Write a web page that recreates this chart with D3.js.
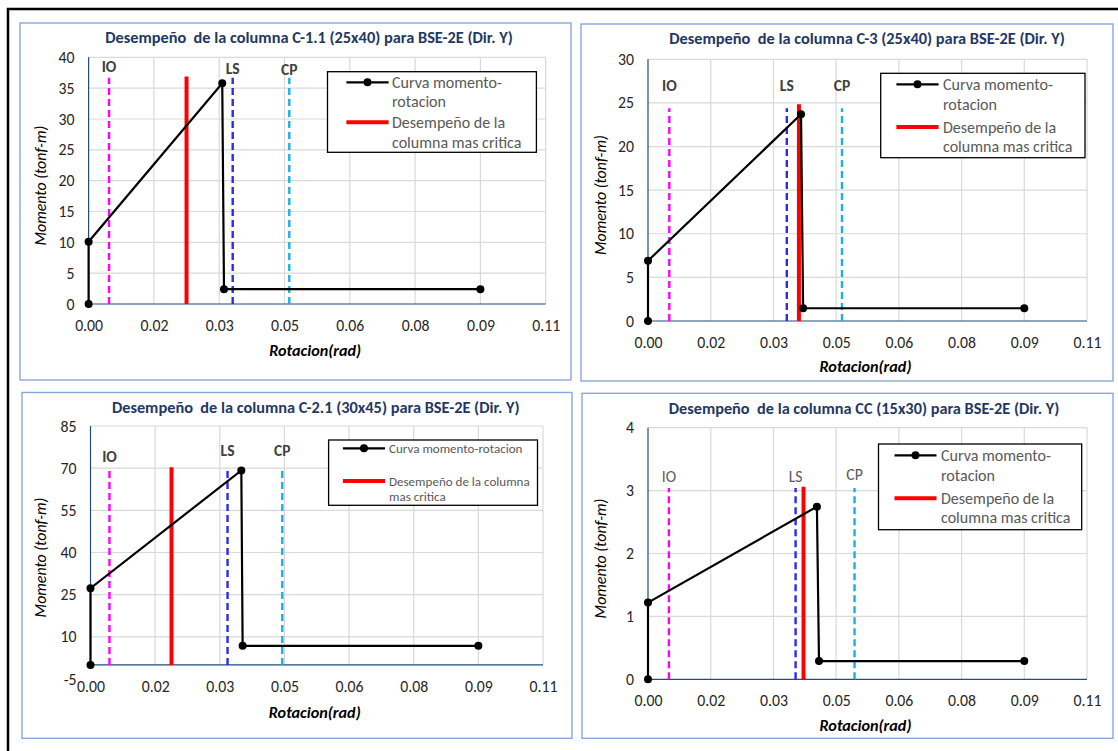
<!DOCTYPE html>
<html><head><meta charset="utf-8">
<script src="https://cdn.jsdelivr.net/npm/d3@7"></script>
<style>
body{margin:0;background:#fff}
svg{display:block}
text{font-family:Carlito, Lato, "Open Sans", sans-serif}
</style>
</head><body>
<svg id="c" width="1118" height="751"></svg>
<script>
// ---------- data ----------
const xTickValues = [0, 0.015, 0.03, 0.045, 0.06, 0.075, 0.09, 0.105];
const xTickLabels = ["0.00", "0.02", "0.03", "0.05", "0.06", "0.08", "0.09", "0.11"];
const xTitle = "Rotacion(rad)";
const yTitle = "Momento (tonf-m)";
const limitNames = ["IO", "LS", "CP"];

const titles = [
  "Desempeño  de la columna C-1.1 (25x40) para BSE-2E (Dir. Y)",
  "Desempeño  de la columna C-3 (25x40) para BSE-2E (Dir. Y)",
  "Desempeño  de la columna C-2.1 (30x45) para BSE-2E (Dir. Y)",
  "Desempeño  de la columna CC (15x30) para BSE-2E (Dir. Y)"
];

// C-1.1
const yTicksC11 = [0, 5, 10, 15, 20, 25, 30, 35, 40];
const rotC11 = [0, 0, 0.0307, 0.0311, 0.090];
const momC11 = [0, 10.1, 35.8, 2.4, 2.4];
const limRotC11 = [0.0047, 0.0331, 0.0461];
const limTopC11 = [36.7, 36.7, 36.7];
const limLabelC11 = [38.5, 38.1, 38.0];
const critRotC11 = 0.0225, critTopC11 = 36.9;

// C-3
const yTicksC3 = [0, 5, 10, 15, 20, 25, 30];
const rotC3 = [0, 0, 0.0366, 0.0371, 0.090];
const momC3 = [0, 6.9, 23.7, 1.46, 1.46];
const limRotC3 = [0.0051, 0.0332, 0.0464];
const limTopC3 = [24.4, 24.4, 24.4];
const limLabelC3 = [27.0, 27.0, 27.0];
const critRotC3 = 0.0361, critTopC3 = 24.85;

// C-2.1
const yTicksC21 = [-5, 10, 25, 40, 55, 70, 85];
const rotC21 = [0, 0, 0.0350, 0.0353, 0.090];
const momC21 = [0, 27.3, 69.2, 6.8, 6.8];
const limRotC21 = [0.0044, 0.0318, 0.0445];
const limTopC21 = [69.5, 69.5, 69.5];
const limLabelC21 = [74.3, 76.1, 76.2];
const critRotC21 = 0.0188, critTopC21 = 70.3;

// CC
const yTicksCC = [0, 1, 2, 3, 4];
const rotCC = [0, 0, 0.0404, 0.0409, 0.090];
const momCC = [0, 1.22, 2.745, 0.29, 0.29];
const limRotCC = [0.0050, 0.0353, 0.0494];
const limTopCC = [3.04, 3.04, 3.04];
const limLabelCC = [3.22, 3.22, 3.26];
const critRotCC = 0.0372, critTopCC = 3.06;

const legendC11 = [["Curva momento-", "rotacion"], ["Desempeño de la", "columna mas critica"]];
const legendC21 = [["Curva momento-rotacion"], ["Desempeño de la columna", "mas critica"]];

// ---------- layout ----------
const panels = [
  { title: titles[0], yTicks: yTicksC11, rot: rotC11, mom: momC11, limRot: limRotC11, limTop: limTopC11, limLabel: limLabelC11, critRot: critRotC11, critTop: critTopC11, legend: legendC11,
    box: [20, 23, 571, 380], plot: [88.6, 57.3, 545.7, 304], titleX: 309, titleY: 37, titleW: 408, xLabY: 325, xTitleY: 350, yTitleX: 40,
    leg: { box: [327.5, 71.7, 536.4, 152.3], sym: [346.4, 388.6], tx: 392, lines: [[82.3, 101.7], [122.3, 142]], fitW: 110 }, limBold: true },
  { title: titles[1], yTicks: yTicksC3, rot: rotC3, mom: momC3, limRot: limRotC3, limTop: limTopC3, limLabel: limLabelC3, critRot: critRotC3, critTop: critTopC3, legend: legendC11,
    box: [581, 24, 1113, 381], plot: [648, 59.3, 1087, 321], titleX: 867, titleY: 38.5, titleW: 396, xLabY: 342, xTitleY: 366.5, yTitleX: 600,
    leg: { box: [880.7, 73.3, 1085, 157.7], sym: [896.4, 938.6], tx: 943, lines: [[84.3, 104], [127, 146]], fitW: 110 }, limBold: true },
  { title: titles[2], yTicks: yTicksC21, rot: rotC21, mom: momC21, limRot: limRotC21, limTop: limTopC21, limLabel: limLabelC21, critRot: critRotC21, critTop: critTopC21, legend: legendC21,
    box: [22, 392.5, 572, 738.3], plot: [90.5, 426, 543, 679], titleX: 315.7, titleY: 407, titleW: 408, xLabY: 686, xTitleY: 712, yTitleX: 40,
    leg: { box: [328.6, 440, 537.5, 505.3], sym: [342.9, 385], tx: 389, lines: [[448.3], [481, 496.7]], fitW: 133.6 }, limBold: true },
  { title: titles[3], yTicks: yTicksCC, rot: rotCC, mom: momCC, limRot: limRotCC, limTop: limTopCC, limLabel: limLabelCC, critRot: critRotCC, critTop: critTopCC, legend: legendC11,
    box: [582, 393.3, 1113, 738.3], plot: [648, 427.7, 1087, 679.3], titleX: 864, titleY: 408.5, titleW: 391, xLabY: 700, xTitleY: 725, yTitleX: 600,
    leg: { box: [878.5, 444, 1081.7, 529.7], sym: [894.5, 936.5], tx: 941, lines: [[455.3, 475], [498.3, 517.7]], fitW: 110 }, limBold: false }
];

const limColors = ["#FF00FF", "#2B2BF0", "#1AAFE6"];
const svg = d3.select("#c");

// font-size fitting helper
const meas = svg.append("text").attr("x", -1000).attr("y", -1000).style("white-space", "pre");
function fitSize(str, target, weight, style) {
  meas.attr("font-size", 20).attr("font-weight", weight || "normal").attr("font-style", style || "normal").text(str);
  return 20 * target / meas.node().getComputedTextLength();
}
const tickFs = fitSize("0.00", 28);
const xTitleFs = fitSize(xTitle, 92, "bold", "italic");
const yTitleFs = fitSize(yTitle, 120, "normal", "italic");
const limFsBold = fitSize("CP", 16.5, "bold");
const limFsReg = fitSize("CP", 16.5, "normal");

// outer black frame (left + top visible)
svg.append("path").attr("d", "M8,751 L8,9 L1118,9").attr("fill", "none").attr("stroke", "#000").attr("stroke-width", 2.5);

panels.forEach(p => {
  const g = svg.append("g");
  const [bx0, by0, bx1, by1] = p.box;
  g.append("rect").attr("x", bx0).attr("y", by0).attr("width", bx1 - bx0).attr("height", by1 - by0)
    .attr("fill", "#fff").attr("stroke", "#8AA7DC").attr("stroke-width", 1.4);

  const [L, T, R, B] = p.plot;
  const x = d3.scaleLinear().domain([0, 0.105]).range([L, R]);
  const yMin = p.yTicks[0], yMax = p.yTicks[p.yTicks.length - 1];
  const y = d3.scaleLinear().domain([yMin, yMax]).range([B, T]);
  const y0 = y(Math.max(0, yMin));

  // gridlines
  const hGrid = p.yTicks.filter(v => v > 0);
  g.append("g").selectAll("line").data(hGrid).join("line")
    .attr("x1", L).attr("x2", R).attr("y1", d => y(d)).attr("y2", d => y(d))
    .attr("stroke", "#D9D9D9").attr("stroke-width", 1.2);
  g.append("g").selectAll("line").data(xTickValues.filter(v => v > 0)).join("line")
    .attr("x1", d => x(d)).attr("x2", d => x(d)).attr("y1", T).attr("y2", y0)
    .attr("stroke", "#D9D9D9").attr("stroke-width", 1.2);

  // axes lines
  g.append("line").attr("x1", L).attr("x2", L).attr("y1", T).attr("y2", y0).attr("stroke", "#1F4E79").attr("stroke-width", 1.2);
  g.append("line").attr("x1", L).attr("x2", R).attr("y1", y0).attr("y2", y0).attr("stroke", "#1F4E79").attr("stroke-width", 1.2);

  // tick labels via d3 axes
  const ax = g.append("g").attr("transform", `translate(0,${p.xLabY})`)
    .call(d3.axisBottom(x).tickValues(xTickValues).tickFormat((d, i) => xTickLabels[i]).tickSize(0).tickPadding(0));
  ax.select(".domain").remove();
  ax.selectAll("text").attr("y", 0).attr("dy", "0.35em").attr("font-size", tickFs).attr("fill", "#262626").style("font-family", "Carlito, Lato, sans-serif");

  const ay = g.append("g").attr("transform", `translate(${L},0)`)
    .call(d3.axisLeft(y).tickValues(p.yTicks).tickFormat(d => String(d)).tickSize(0).tickPadding(14));
  ay.select(".domain").remove();
  ay.selectAll("text").attr("font-size", tickFs).attr("fill", "#262626").style("font-family", "Carlito, Lato, sans-serif");

  // limit lines
  limitNames.forEach((nm, i) => {
    g.append("line").attr("x1", x(p.limRot[i])).attr("x2", x(p.limRot[i]))
      .attr("y1", y(0)).attr("y2", y(p.limTop[i]))
      .attr("stroke", limColors[i]).attr("stroke-width", 2.4).attr("stroke-dasharray", "7,4");
    g.append("text").attr("x", x(p.limRot[i])).attr("y", y(p.limLabel[i])).attr("dy", "0.35em")
      .attr("text-anchor", "middle").attr("font-size", p.limBold ? limFsBold : limFsReg).attr("font-weight", p.limBold ? "bold" : "normal")
      .attr("fill", p.limBold ? "#404040" : "#595959").text(nm);
  });

  // critical line
  g.append("line").attr("x1", x(p.critRot)).attr("x2", x(p.critRot)).attr("y1", y(0)).attr("y2", y(p.critTop))
    .attr("stroke", "#FF0000").attr("stroke-width", 4);

  // curve
  const pts = p.rot.map((r, i) => [r, p.mom[i]]);
  g.append("path").attr("d", d3.line().x(d => x(d[0])).y(d => y(d[1]))(pts))
    .attr("fill", "none").attr("stroke", "#000").attr("stroke-width", 2.2);
  g.append("g").selectAll("circle").data(pts).join("circle")
    .attr("cx", d => x(d[0])).attr("cy", d => y(d[1])).attr("r", 4).attr("fill", "#000");

  // title
  const tfs = fitSize(p.title, p.titleW, "bold");
  g.append("text").attr("x", p.titleX).attr("y", p.titleY).attr("dy", "0.35em")
    .attr("text-anchor", "middle").attr("font-weight", "bold").attr("font-size", tfs)
    .attr("fill", "#1F3864").style("white-space", "pre").text(p.title);

  // axis titles
  g.append("text").attr("x", (L + R) / 2 - 2).attr("y", p.xTitleY).attr("dy", "0.35em").attr("text-anchor", "middle")
    .attr("font-size", xTitleFs).attr("font-weight", "bold").attr("font-style", "italic").attr("fill", "#000").text(xTitle);
  g.append("text").attr("transform", `translate(${p.yTitleX},${(T + B) / 2 + 5}) rotate(-90)`).attr("dy", "0.35em")
    .attr("text-anchor", "middle").attr("font-size", yTitleFs).attr("font-style", "italic").attr("fill", "#000").text(yTitle);

  // legend
  const lg = p.leg;
  const lfs = fitSize(p.legend[0][0], lg.fitW);
  g.append("rect").attr("x", lg.box[0]).attr("y", lg.box[1]).attr("width", lg.box[2] - lg.box[0]).attr("height", lg.box[3] - lg.box[1])
    .attr("fill", "#fff").attr("stroke", "#000").attr("stroke-width", 1.3);
  const symY0 = lg.lines[0][0], symY1 = lg.lines[1][0];
  g.append("line").attr("x1", lg.sym[0]).attr("x2", lg.sym[1]).attr("y1", symY0).attr("y2", symY0).attr("stroke", "#000").attr("stroke-width", 2.2);
  g.append("circle").attr("cx", (lg.sym[0] + lg.sym[1]) / 2).attr("cy", symY0).attr("r", 4).attr("fill", "#000");
  g.append("line").attr("x1", lg.sym[0]).attr("x2", lg.sym[1]).attr("y1", symY1).attr("y2", symY1).attr("stroke", "#FF0000").attr("stroke-width", 4);
  p.legend.forEach((entry, ei) => {
    entry.forEach((ln, li) => {
      g.append("text").attr("x", lg.tx).attr("y", lg.lines[ei][li]).attr("dy", "0.35em")
        .attr("font-size", lfs).attr("fill", "#595959").text(ln);
    });
  });
});
meas.remove();
</script>
</body></html>
